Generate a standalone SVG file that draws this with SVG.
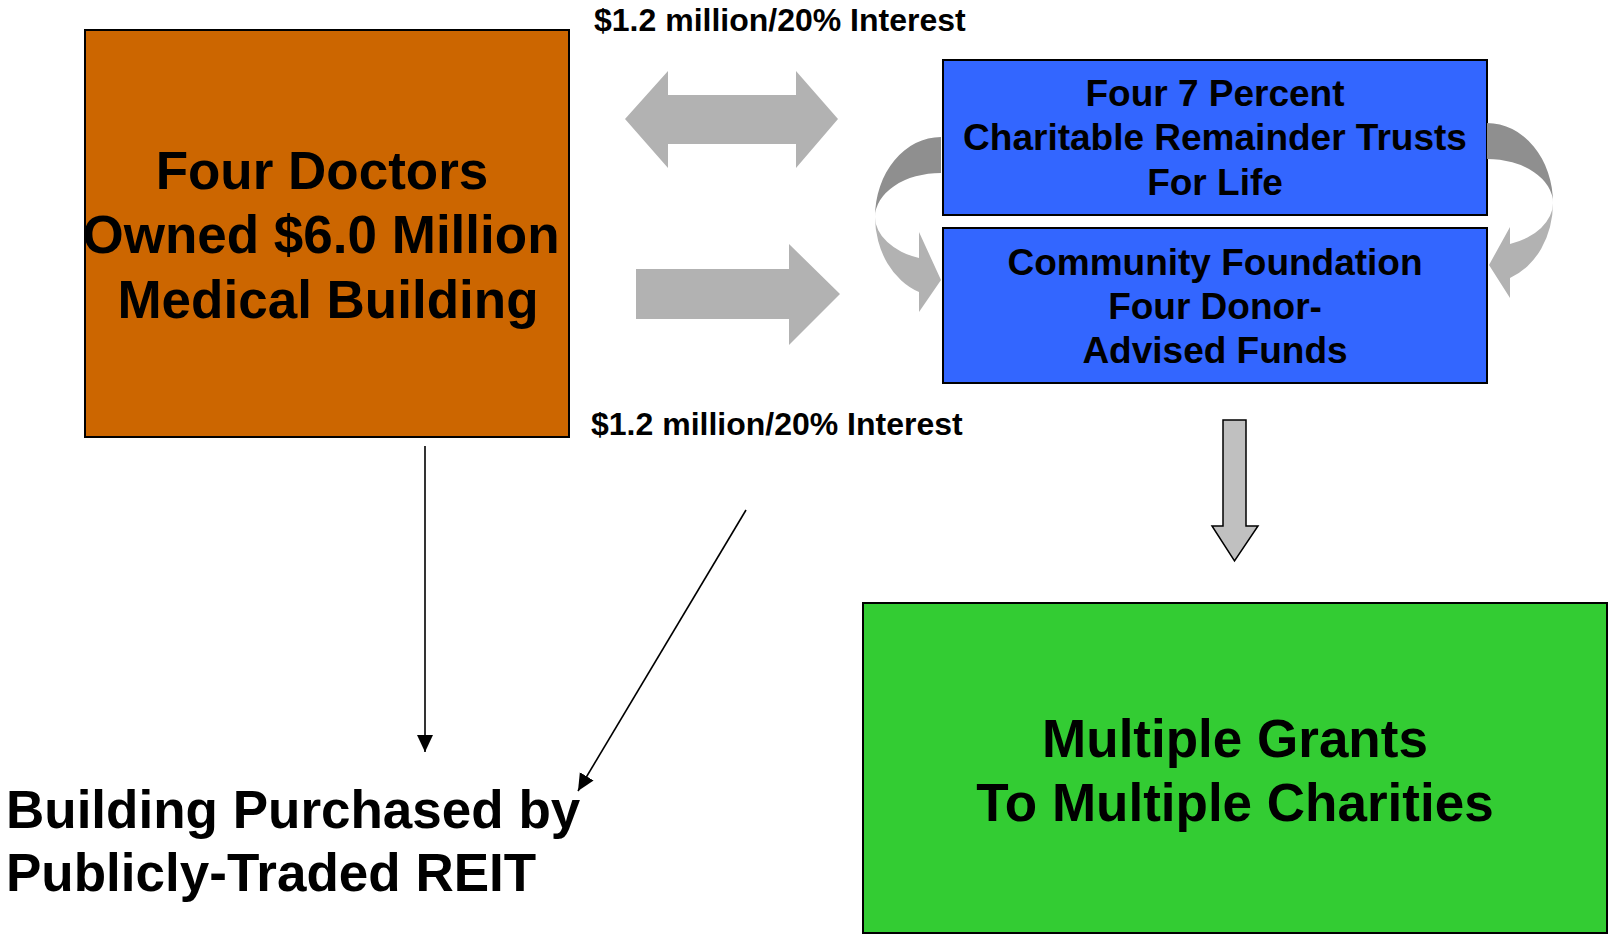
<svg xmlns="http://www.w3.org/2000/svg" width="1614" height="938" viewBox="0 0 1614 938">
<style>
  text { font-family: "Liberation Sans", Arial, sans-serif; font-weight: bold; fill: #000; }
  .big { font-size: 53px; }
  .mid { font-size: 37px; }
  .lbl { font-size: 32px; }
  .box { stroke: #000; stroke-width: 2; }
  .gray { fill: #B2B2B2; }
  .dark { fill: #8F8F8F; }
  .line { stroke: #000; stroke-width: 1.6; fill: none; }
</style>
<defs>
  <marker id="ah" markerUnits="userSpaceOnUse" markerWidth="18" markerHeight="18" viewBox="0 0 18 18" refX="17" refY="9" orient="auto">
    <path d="M0,1 L17,9 L0,17 Z" fill="#000"/>
  </marker>
</defs>
<rect width="1614" height="938" fill="#fff"/>

<g id="doctors">
  <rect class="box" x="85" y="30" width="484" height="407" fill="#CC6600"/>
  <text class="big" text-anchor="middle" x="322" y="189">Four Doctors</text>
  <text class="big" text-anchor="middle" x="321" y="253">Owned $6.0 Million</text>
  <text class="big" text-anchor="middle" x="328" y="318">Medical Building</text>
</g>

<g id="crt">
  <rect class="box" x="943" y="60" width="544" height="155" fill="#3366FF"/>
  <text class="mid" text-anchor="middle" x="1215" y="106">Four 7 Percent</text>
  <text class="mid" text-anchor="middle" x="1215" y="150">Charitable Remainder Trusts</text>
  <text class="mid" text-anchor="middle" x="1215" y="195">For Life</text>
</g>

<g id="foundation">
  <rect class="box" x="943" y="228" width="544" height="155" fill="#3366FF"/>
  <text class="mid" text-anchor="middle" x="1215" y="275">Community Foundation</text>
  <text class="mid" text-anchor="middle" x="1215" y="319">Four Donor-</text>
  <text class="mid" text-anchor="middle" x="1215" y="363">Advised Funds</text>
</g>

<g id="grants">
  <rect class="box" x="863" y="603" width="744" height="330" fill="#33CC33"/>
  <text class="big" text-anchor="middle" x="1235" y="757">Multiple Grants</text>
  <text class="big" text-anchor="middle" x="1235" y="821">To Multiple Charities</text>
</g>

<g id="reit">
  <text class="big" x="6" y="828">Building Purchased by</text>
  <text class="big" x="6" y="891">Publicly-Traded REIT</text>
</g>

<g id="labels">
  <text class="lbl" x="594" y="31">$1.2 million/20% Interest</text>
  <text class="lbl" x="591" y="435">$1.2 million/20% Interest</text>
</g>

<g id="connectors">
  <path class="gray" d="M625,119 L668,71 L668,95 L796,95 L796,71 L838,119 L796,168 L796,144 L668,144 L668,168 Z"/>
  <path class="gray" d="M636,269 L789,269 L789,244 L840,294 L789,345 L789,319 L636,319 Z"/>
  <path class="dark" d="M941,137 A66,80 0 0,0 875,217 A66,44 0 0,1 941,173 Z"/>
  <path class="gray" d="M875,217 A66,80 0 0,0 919,292 L919,312 L941,280 L919,232 L919,258 A66,44 0 0,1 875,217 Z"/>
  <path class="dark" d="M1487,123 A66,80 0 0,1 1553,203 A66,44 0 0,0 1487,159 Z"/>
  <path class="gray" d="M1553,203 A66,80 0 0,1 1510,278 L1510,298 L1489,265 L1510,227 L1510,244 A66,44 0 0,0 1553,203 Z"/>
  <path d="M1223,420 L1246,420 L1246,526 L1258,526 L1234.5,561 L1212,526 L1223,526 Z" fill="#C0C0C0" stroke="#000" stroke-width="1.5"/>
  <line class="line" x1="425" y1="446" x2="425" y2="752" marker-end="url(#ah)"/>
  <line class="line" x1="746" y1="510" x2="578" y2="791" marker-end="url(#ah)"/>
</g>
</svg>
